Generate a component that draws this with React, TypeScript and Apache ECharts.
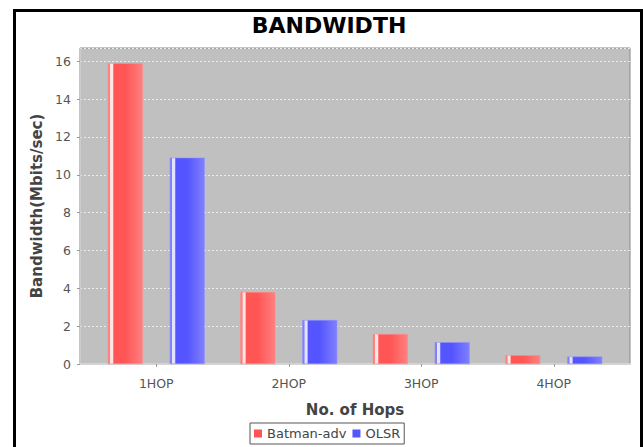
import React, { useEffect, useRef } from "react";
import * as echarts from "echarts";

const categories = ["1HOP", "2HOP", "3HOP", "4HOP"];
const batmanValues = [15.9, 3.8, 1.58, 0.46];
const olsrValues = [10.9, 2.32, 1.15, 0.39];
const seriesNames = ["Batman-adv", "OLSR"];
const yTicks = { min: 0, max: 16.7, interval: 2 };

const FONT = "DejaVu Sans";

function barGradient(base: string, edge: string, stripe: string) {
  return new echarts.graphic.LinearGradient(0, 0, 1, 0, [
    { offset: 0, color: edge },
    { offset: 0.05, color: edge },
    { offset: 0.07, color: stripe },
    { offset: 0.13, color: stripe },
    { offset: 0.17, color: base },
    { offset: 0.5, color: base },
    { offset: 1, color: edge },
  ]);
}

export default function App() {
  const ref = useRef<HTMLDivElement>(null);
  useEffect(() => {
    if (!ref.current) return;
    const chart = echarts.init(ref.current, undefined, { renderer: "svg" });
    chart.setOption({
      animation: false,
      backgroundColor: "#ffffff",
      graphic: [
        {
          type: "rect",
          shape: { x: 14.5, y: 10.5, width: 627, height: 520 },
          style: { fill: "none", stroke: "#000", lineWidth: 3 },
          silent: true,
        },
        {
          type: "text",
          x: 329,
          y: 25,
          style: {
            text: "BANDWIDTH",
            font: `bold 22px '${FONT}'`,
            fill: "#000",
            textAlign: "center",
            textVerticalAlign: "middle",
          },
        },
      ],
      grid: [
        {
          left: 80,
          top: 48,
          width: 550,
          height: 316,
          show: true,
          backgroundColor: "#c0c0c0",
          borderColor: "#888888",
          borderWidth: 1,
        },
        { left: 90, top: 48, width: 530, height: 316, show: false },
      ],
      legend: {
        left: 250,
        top: 423,
        data: [
          { name: seriesNames[0], itemStyle: { color: "#ff5555", borderWidth: 0 } },
          { name: seriesNames[1], itemStyle: { color: "#5555ff", borderWidth: 0 } },
        ],
        icon: "rect",
        itemWidth: 8,
        itemHeight: 8,
        itemGap: 6,
        borderColor: "#555",
        borderWidth: 1,
        borderRadius: 0,
        padding: [4, 4, 4, 4],
        textStyle: { fontFamily: FONT, fontSize: 13, color: "#444" },
      },
      xAxis: [
        {
          gridIndex: 0,
          type: "value",
          min: 0,
          max: 1,
          offset: 5,
          axisLine: { show: true, lineStyle: { color: "#d4d4d4", width: 2 } },
          axisTick: { show: false },
          axisLabel: { show: false },
          splitLine: { show: false },
        },
        {
          gridIndex: 1,
          type: "category",
          data: categories,
          offset: 5,
          axisLine: { show: false },
          axisTick: { show: true, alignWithLabel: true, length: 3, lineStyle: { color: "#999" } },
          axisLabel: { fontFamily: FONT, fontSize: 12.5, color: "#555", margin: 8 },
          name: "No. of Hops",
          nameLocation: "middle",
          nameGap: 33,
          nameTextStyle: { fontFamily: FONT, fontSize: 15, fontWeight: "bold", color: "#444" },
        },
      ],
      yAxis: [
        {
          gridIndex: 0,
          type: "value",
          min: yTicks.min,
          max: yTicks.max,
          interval: yTicks.interval,
          offset: 3,
          axisLine: { show: true, lineStyle: { color: "#cccccc" } },
          axisTick: { show: true, length: 3, lineStyle: { color: "#999" } },
          axisLabel: { fontFamily: FONT, fontSize: 12.5, color: "#555", margin: 6, showMaxLabel: false },
          splitLine: { show: true, lineStyle: { color: "#ececec", type: [2, 2], width: 1 } },
          name: "Bandwidth(Mbits/sec)",
          nameLocation: "middle",
          nameGap: 32,
          nameTextStyle: { fontFamily: FONT, fontSize: 15, fontWeight: "bold", color: "#444" },
        },
        {
          gridIndex: 1,
          type: "value",
          min: yTicks.min,
          max: yTicks.max,
          show: false,
          splitLine: { show: false },
        },
      ],
      series: [
        {
          name: seriesNames[0],
          type: "bar",
          xAxisIndex: 1,
          yAxisIndex: 1,
          data: batmanValues,
          barWidth: 35,
          barGap: "77%",
          itemStyle: {
            color: barGradient("#ff5555", "#ff8080", "#ffe4e4"),
            borderColor: "#ff8f8f",
            borderWidth: 0.5,
          },
        },
        {
          name: seriesNames[1],
          type: "bar",
          xAxisIndex: 1,
          yAxisIndex: 1,
          data: olsrValues,
          barWidth: 35,
          barGap: "77%",
          itemStyle: {
            color: barGradient("#5555ff", "#8080ff", "#e4e4ff"),
            borderColor: "#8f8fff",
            borderWidth: 0.5,
          },
        },
      ],
    });
    return () => chart.dispose();
  }, []);
  return (
    <div
      ref={ref}
      style={{ position: "fixed", left: 0, top: 0, width: 643, height: 447 }}
    />
  );
}
